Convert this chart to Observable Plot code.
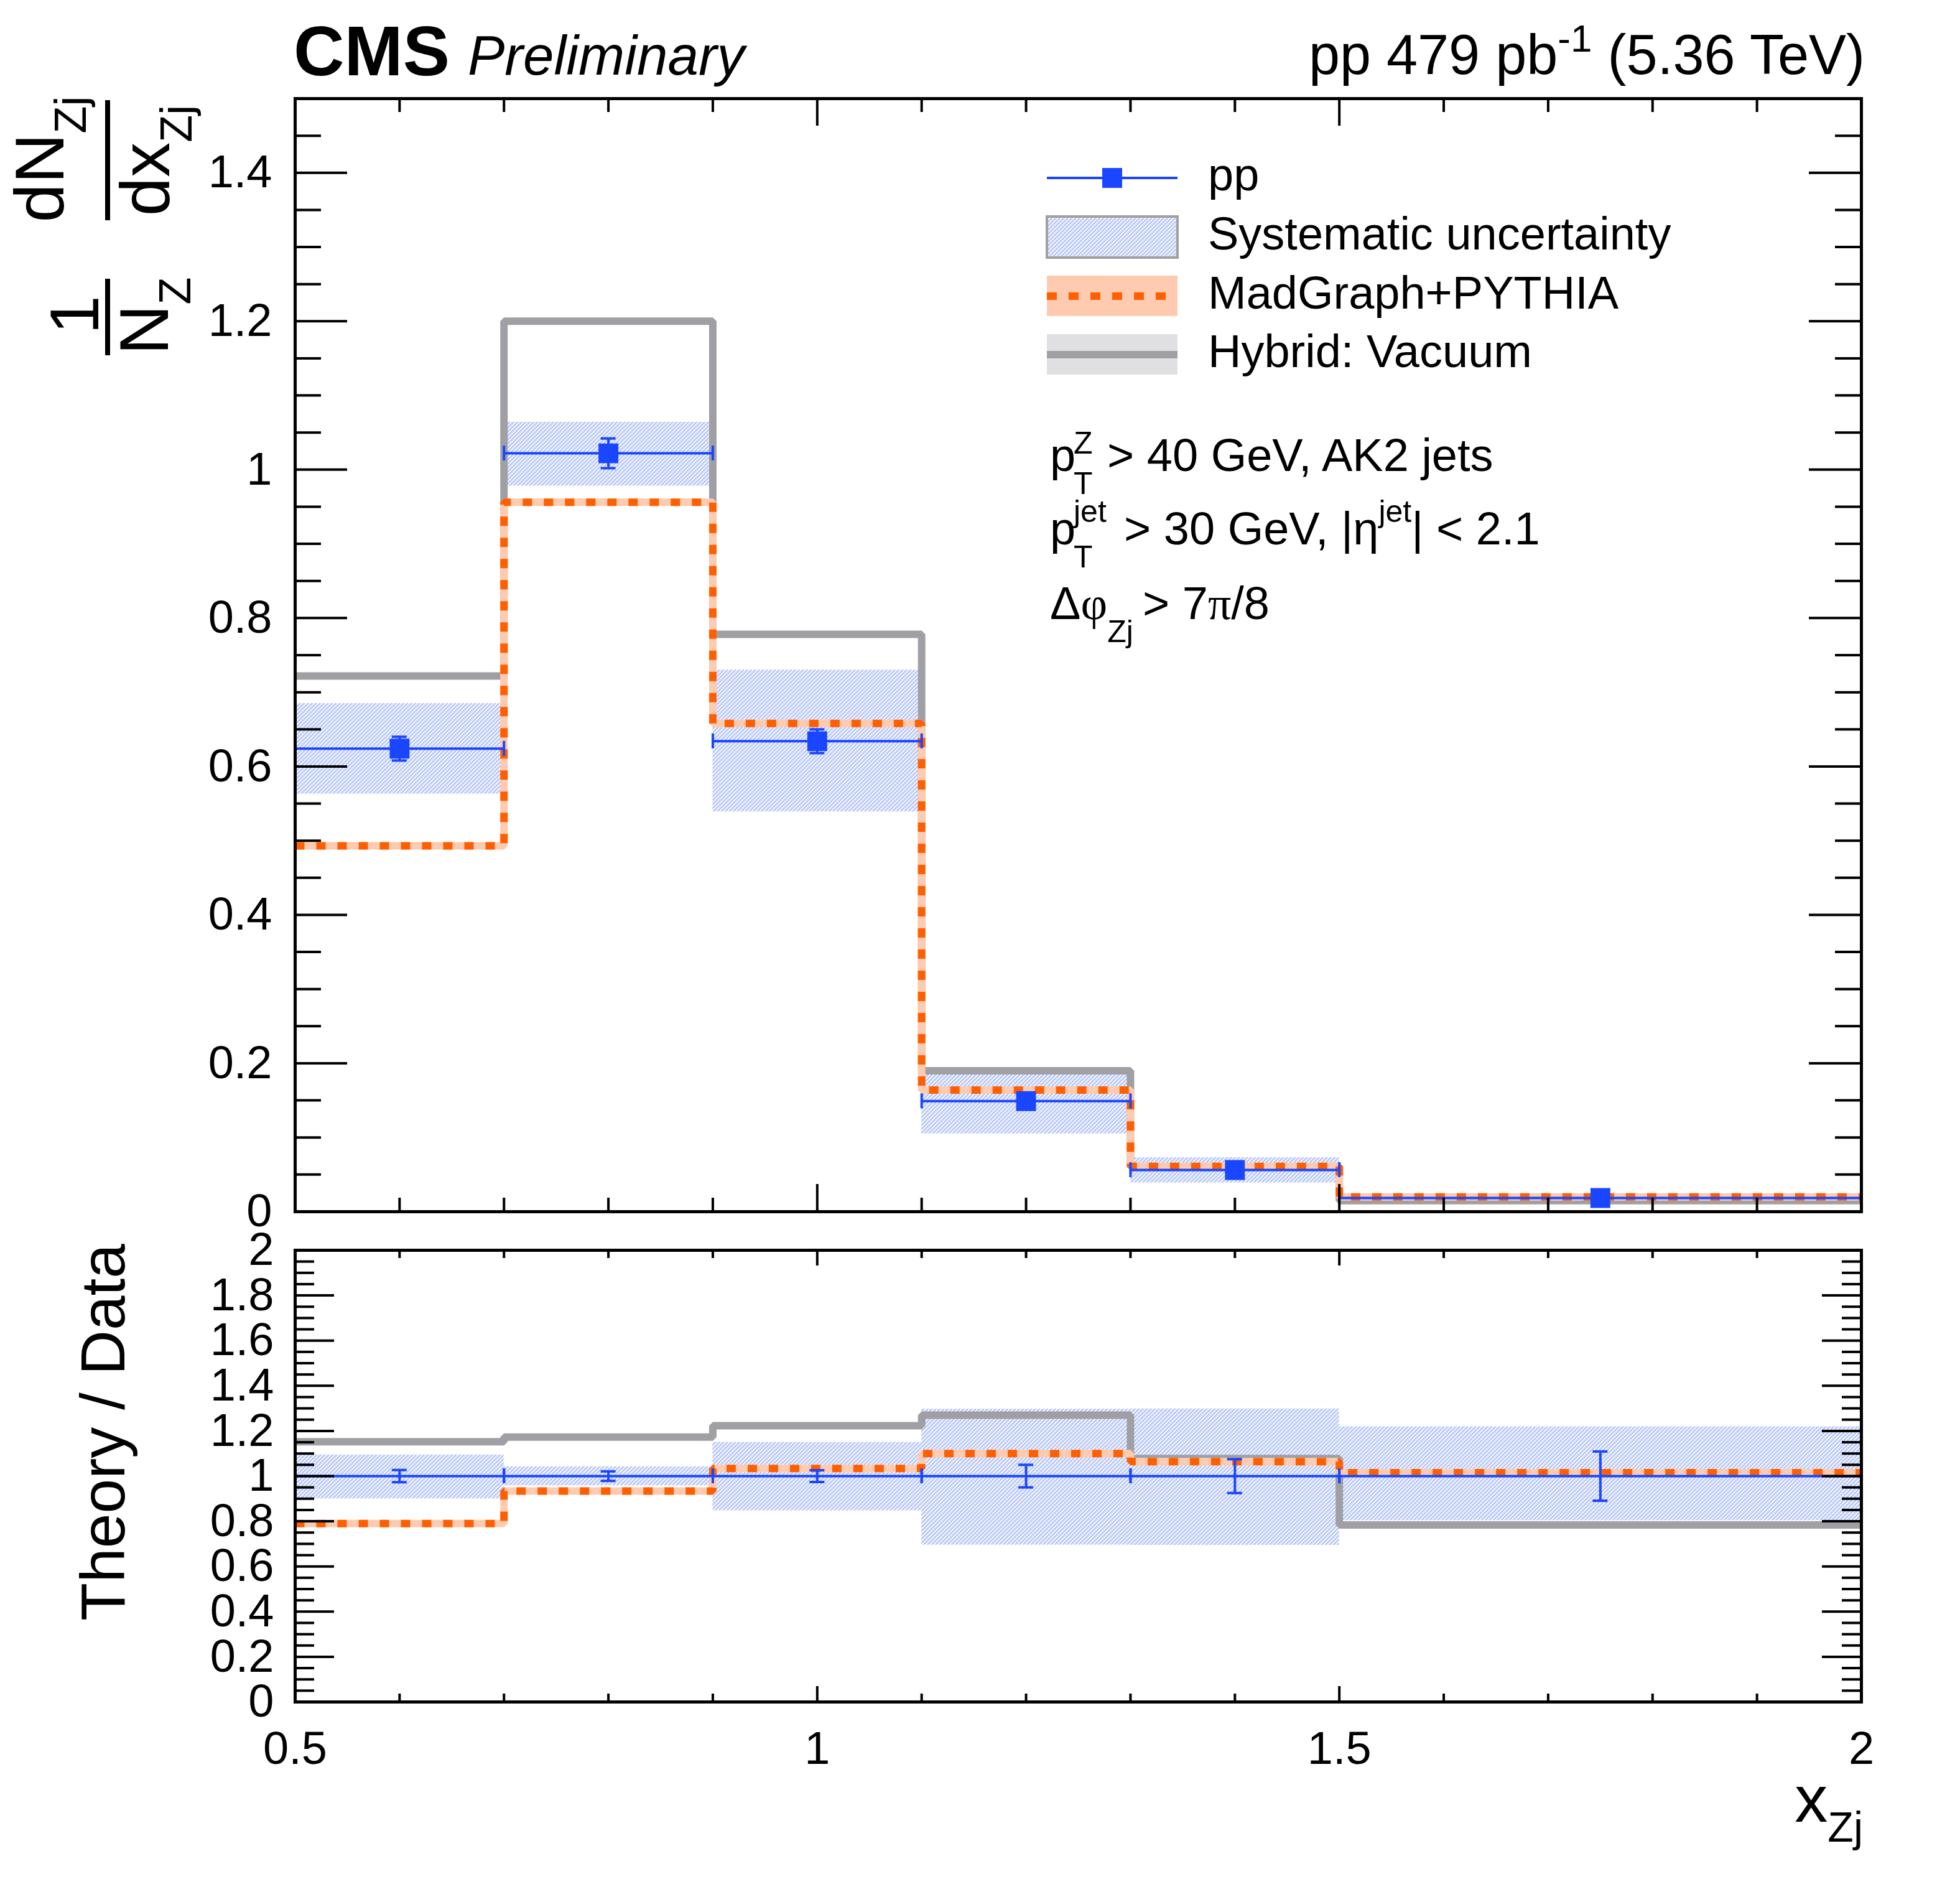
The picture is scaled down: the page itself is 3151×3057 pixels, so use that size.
<!DOCTYPE html>
<html><head><meta charset="utf-8">
<script src="https://cdn.jsdelivr.net/npm/d3@7"></script>
<script src="https://cdn.jsdelivr.net/npm/@observablehq/plot@0.6"></script>
<style>
body{margin:0;background:#fff;}
#wrap{position:relative;width:3151px;height:3057px;}
#wrap svg{position:absolute;left:0;}
text{white-space:pre;}
</style></head><body><div id="wrap"></div>
<script>
// ---------- data ----------
const binLo = [0.5, 0.7, 0.9, 1.1, 1.3, 1.5];
const binHi = [0.7, 0.9, 1.1, 1.3, 1.5, 2.0];
const binCenter = [0.6, 0.8, 1.0, 1.2, 1.4, 1.75];
const ppValue = [0.624, 1.022, 0.634, 0.149, 0.0562, 0.0185];
const ppStat = [0.016, 0.020, 0.016, 0.0075, 0.0042, 0.002];
const sysLow = [0.563, 0.978, 0.539, 0.105, 0.039, 0.0149];
const sysHigh = [0.685, 1.064, 0.730, 0.193, 0.073, 0.0225];
const madgraph = [0.493, 0.956, 0.658, 0.164, 0.061, 0.0199];
const hybridVacuum = [0.722, 1.200, 0.778, 0.190, 0.0605, 0.0148];
// ratio panel
const dataRatio = [1, 1, 1, 1, 1, 1];
const statRatio = [0.027, 0.021, 0.026, 0.050, 0.075, 0.109];
const sysRatioLow = [0.900, 0.958, 0.847, 0.695, 0.694, 0.803];
const sysRatioHigh = [1.094, 1.042, 1.150, 1.297, 1.298, 1.219];
const madgraphRatio = [0.790, 0.934, 1.034, 1.100, 1.064, 1.015];
const hybridRatio = [1.152, 1.173, 1.223, 1.270, 1.078, 0.784];
// ticks
const xMajorTicks = [0.5, 1, 1.5, 2];
const xMinorTicks = [0.6, 0.7, 0.8, 0.9, 1.1, 1.2, 1.3, 1.4, 1.6, 1.7, 1.8, 1.9];
const mainYMajor = [0, 0.2, 0.4, 0.6, 0.8, 1, 1.2, 1.4];
const mainYMinor = [0.05,0.1,0.15,0.25,0.3,0.35,0.45,0.5,0.55,0.65,0.7,0.75,0.85,0.9,0.95,1.05,1.1,1.15,1.25,1.3,1.35,1.45,1.5];
const ratioYMajor = [0, 0.2, 0.4, 0.6, 0.8, 1, 1.2, 1.4, 1.6, 1.8, 2];
const ratioYMinor = [0.05,0.1,0.15,0.25,0.3,0.35,0.45,0.5,0.55,0.65,0.7,0.75,0.85,0.9,0.95,1.05,1.1,1.15,1.25,1.3,1.35,1.45,1.5,1.55,1.65,1.7,1.75,1.85,1.9,1.95];

// ---------- styling ----------
const FONT = "'Liberation Sans', Arial, Helvetica, sans-serif";
const SERIF = "'Liberation Serif', 'DejaVu Serif', serif";
const blue = "#1b46ff", orange = "#ff5f00", orangeLight = "#ffcbb0", gray = "#a0a0a4", grayLight = "#e0e0e2", hatchColor = "#b4c4f7";
const W = 3151;
const frameL = 474, frameR = 2992;
const innerW = frameR - frameL;
const mainH = 1990, mainTop = 158, mainBot = 1947;
const ratioH = 3057 - mainH, ratioTop = 2009 - mainH, ratioBot = 2735 - mainH;

const bins = binLo.map((lo, i) => ({
  lo, hi: binHi[i], c: binCenter[i],
  pp: ppValue[i], stat: ppStat[i], sysLo: sysLow[i], sysHi: sysHigh[i],
  mg: madgraph[i], hyb: hybridVacuum[i],
  r: dataRatio[i], rStat: statRatio[i], rSysLo: sysRatioLow[i], rSysHi: sysRatioHigh[i],
  rMg: madgraphRatio[i], rHyb: hybridRatio[i]
}));
const step = (vals) => binLo.map((x, i) => ({x, y: vals[i]})).concat([{x: binHi[binHi.length - 1], y: vals[vals.length - 1]}]);
const fmt = d => String(d);

function frameTicks(innerH, yMaj, yMin, lens) {
  const [yMajL, yMinL, xMajL, xMinL] = lens;
  const s = {stroke: "black", strokeWidth: 4};
  return [
    Plot.ruleY(yMaj, {y: d => d, insetRight: innerW - yMajL, ...s}),
    Plot.ruleY(yMaj, {y: d => d, insetLeft: innerW - yMajL, ...s}),
    Plot.ruleY(yMin, {y: d => d, insetRight: innerW - yMinL, ...s}),
    Plot.ruleY(yMin, {y: d => d, insetLeft: innerW - yMinL, ...s}),
    Plot.ruleX(xMajorTicks, {x: d => d, insetTop: innerH - xMajL, ...s}),
    Plot.ruleX(xMajorTicks, {x: d => d, insetBottom: innerH - xMajL, ...s}),
    Plot.ruleX(xMinorTicks, {x: d => d, insetTop: innerH - xMinL, ...s}),
    Plot.ruleX(xMinorTicks, {x: d => d, insetBottom: innerH - xMinL, ...s})
  ];
}

function dataMarks(yKey, errKey, withMarker, capLen) {
  const s = {stroke: blue, strokeWidth: 4};
  const marks = [
    Plot.ruleY(bins, {y: yKey, x1: "lo", x2: "hi", ...s}),
    Plot.ruleX(bins, {x: "lo", y1: yKey, y2: yKey, insetTop: -capLen, insetBottom: -capLen, ...s}),
    Plot.ruleX(bins, {x: "hi", y1: yKey, y2: yKey, insetTop: -capLen, insetBottom: -capLen, ...s}),
    Plot.ruleX(bins, {x: "c", y1: d => d[yKey] - d[errKey], y2: d => d[yKey] + d[errKey], ...s}),
    Plot.ruleY(bins, {y: d => d[yKey] - d[errKey], x1: "c", x2: "c", insetLeft: -12, insetRight: -12, ...s}),
    Plot.ruleY(bins, {y: d => d[yKey] + d[errKey], x1: "c", x2: "c", insetLeft: -12, insetRight: -12, ...s})
  ];
  if (withMarker) marks.push(Plot.dot(bins, {x: "c", y: yKey, symbol: "square", r: 18, fill: blue}));
  return marks;
}

const lineOpts = {x: "x", y: "y", curve: "step-after", strokeLinecap: "butt", strokeLinejoin: "miter"};
const plotStyle = {fontFamily: FONT, background: "transparent", overflow: "visible", maxWidth: "none"};

const mainPlot = Plot.plot({
  width: W, height: mainH,
  marginLeft: frameL, marginRight: W - frameR, marginTop: mainTop, marginBottom: mainH - mainBot,
  x: {domain: [0.5, 2], axis: null},
  y: {domain: [0, 1.5], axis: null},
  style: plotStyle,
  marks: [
    Plot.rect(bins, {x1: "lo", x2: "hi", y1: "sysLo", y2: "sysHi", fill: "url(#hatchPattern)"}),
    Plot.line(step(hybridVacuum), {...lineOpts, stroke: gray, strokeWidth: 12}),
    Plot.line(step(madgraph), {...lineOpts, stroke: orangeLight, strokeWidth: 12}),
    Plot.line(step(madgraph), {...lineOpts, stroke: orange, strokeWidth: 12, strokeDasharray: "15,19"}),
    ...dataMarks("pp", "stat", true, 12),
    ...frameTicks(mainBot - mainTop, mainYMajor, mainYMinor, [84, 42, 44, 22]),
    Plot.axisY({ticks: mainYMajor, tickSize: 0, tickPadding: 37, fontSize: 74, tickFormat: fmt, label: null}),
    Plot.frame({stroke: "black", strokeWidth: 5})
  ]
});

const ratioPlot = Plot.plot({
  width: W, height: ratioH,
  marginLeft: frameL, marginRight: W - frameR, marginTop: ratioTop, marginBottom: ratioH - ratioBot,
  x: {domain: [0.5, 2]},
  y: {domain: [0, 2]},
  style: plotStyle,
  marks: [
    Plot.rect(bins, {x1: "lo", x2: "hi", y1: "rSysLo", y2: "rSysHi", fill: "url(#hatchPattern)"}),
    Plot.line(step(hybridRatio), {...lineOpts, stroke: gray, strokeWidth: 12}),
    Plot.line(step(madgraphRatio), {...lineOpts, stroke: orangeLight, strokeWidth: 12}),
    Plot.line(step(madgraphRatio), {...lineOpts, stroke: orange, strokeWidth: 12, strokeDasharray: "15,19"}),
    ...dataMarks("r", "rStat", false, 12),
    ...frameTicks(ratioBot - ratioTop, ratioYMajor, ratioYMinor, [63, 31, 25, 13]),
    Plot.axisY({ticks: ratioYMajor, tickSize: 0, tickPadding: 34, fontSize: 74, tickFormat: fmt, label: null}),
    Plot.axisX({ticks: xMajorTicks, tickSize: 0, tickPadding: 47, fontSize: 74, tickFormat: fmt, label: null}),
    Plot.frame({stroke: "black", strokeWidth: 5})
  ]
});

const wrap = document.getElementById("wrap");
mainPlot.style.top = "0px";
ratioPlot.style.top = mainH + "px";
wrap.appendChild(mainPlot);
wrap.appendChild(ratioPlot);

// hatch pattern
const P = 6.4;
const defs = d3.select(mainPlot).insert("defs", ":first-child");
const pat = defs.append("pattern").attr("id", "hatchPattern").attr("patternUnits", "userSpaceOnUse")
  .attr("width", P).attr("height", P);
pat.append("path").attr("d", `M-1.6,1.6 L1.6,-1.6 M0,${P} L${P},0 M${P - 1.6},${P + 1.6} L${P + 1.6},${P - 1.6}`)
  .attr("stroke", hatchColor).attr("stroke-width", 2.6).attr("fill", "none");

// ---------- overlay: titles, legend, annotations ----------
const ov = d3.select(wrap).append("svg").attr("width", W).attr("height", 3057)
  .style("top", "0px").style("pointer-events", "none");

function addText(parent, x, y, segs, anchor = "start") {
  const t = parent.append("text").attr("x", x).attr("y", y).attr("text-anchor", anchor)
    .attr("font-family", FONT).attr("fill", "black");
  segs.forEach(s => {
    const ts = t.append("tspan").text(s.t).attr("font-size", s.size);
    if (s.x != null) ts.attr("x", s.x);
    if (s.dy) ts.attr("dy", s.dy);
    if (s.family) ts.attr("font-family", s.family);
    if (s.italic) ts.attr("font-style", "italic");
    if (s.bold) ts.attr("font-weight", "bold");
  });
  return t;
}

// header
addText(ov, 472, 121, [{t: "CMS", size: 113, bold: true}]);
addText(ov, 752, 120, [{t: "Preliminary", size: 89, italic: true}]);
addText(ov, 2998, 119, [{t: "pp 479 pb", size: 90}, {t: "-1", size: 62, dy: -36}, {t: " (5.36 TeV)", size: 90, dy: 36}], "end");

// main y title (rotated fraction)
const gy = ov.append("g").attr("transform", "rotate(-90)");
addText(gy, -256, 102, [{t: "dN", size: 112}, {t: "Zj", size: 72, dy: 36}], "middle");
addText(gy, -258, 272, [{t: "dx", size: 112}, {t: "Zj", size: 72, dy: 36}], "middle");
gy.append("line").attr("x1", -354).attr("x2", -161).attr("y1", 173).attr("y2", 173).attr("stroke", "black").attr("stroke-width", 8);
addText(gy, -506, 158, [{t: "1", size: 112}], "middle");
addText(gy, -508, 270, [{t: "N", size: 112}, {t: "Z", size: 72, dy: 36}], "middle");
gy.append("line").attr("x1", -571).attr("x2", -448).attr("y1", 173).attr("y2", 173).attr("stroke", "black").attr("stroke-width", 8);
// ratio y title
addText(gy, -2302, 200, [{t: "Theory / Data", size: 100}], "middle");
// x title
addText(ov, 2995, 2928, [{t: "x", size: 106}, {t: "Zj", size: 68, dy: 32}], "end");

// legend
const lx = 1683, lw = 210, tx = 1942;
ov.append("line").attr("x1", lx).attr("x2", lx + lw).attr("y1", 286).attr("y2", 286).attr("stroke", blue).attr("stroke-width", 4);
ov.append("rect").attr("x", lx + lw / 2 - 16).attr("y", 270).attr("width", 32).attr("height", 32).attr("fill", blue);
addText(ov, tx, 306, [{t: "pp", size: 74}]);
ov.append("rect").attr("x", lx).attr("y", 348).attr("width", lw).attr("height", 66).attr("fill", "url(#hatchPattern)").attr("stroke", "#a0a0a0").attr("stroke-width", 4);
addText(ov, tx, 401, [{t: "Systematic uncertainty", size: 74}]);
ov.append("rect").attr("x", lx).attr("y", 443).attr("width", lw).attr("height", 65).attr("fill", orangeLight);
ov.append("line").attr("x1", lx).attr("x2", lx + lw).attr("y1", 476).attr("y2", 476).attr("stroke", orange).attr("stroke-width", 12).attr("stroke-dasharray", "16,19");
addText(ov, tx, 496, [{t: "MadGraph+PYTHIA", size: 74}]);
ov.append("rect").attr("x", lx).attr("y", 537).attr("width", lw).attr("height", 65).attr("fill", grayLight);
ov.append("line").attr("x1", lx).attr("x2", lx + lw).attr("y1", 570).attr("y2", 570).attr("stroke", gray).attr("stroke-width", 12);
addText(ov, tx, 590, [{t: "Hybrid: Vacuum", size: 74}]);

// selection annotations
addText(ov, 1688, 757, [
  {t: "p", size: 74}, {t: "Z", size: 50, x: 1726, dy: -28}, {t: "T", size: 50, x: 1726, dy: 65},
  {t: "> 40 GeV, AK2 jets", size: 74, x: 1780, dy: -37}]);
addText(ov, 1688, 875, [
  {t: "p", size: 74}, {t: "jet", size: 50, x: 1726, dy: -36}, {t: "T", size: 50, x: 1726, dy: 73},
  {t: "> 30 GeV, |", size: 74, x: 1807, dy: -37}, {t: "η", size: 74},
  {t: "jet", size: 50, dy: -36}, {t: "| < 2.1", size: 74, dy: 36}]);
addText(ov, 1688, 995, [
  {t: "Δ", size: 74}, {t: "φ", size: 74, family: SERIF}, {t: "Zj", size: 50, dy: 37},
  {t: "> 7", size: 74, x: 1837, dy: -37}, {t: "π", size: 74, family: SERIF}, {t: "/8", size: 74}]);
</script></body></html>
